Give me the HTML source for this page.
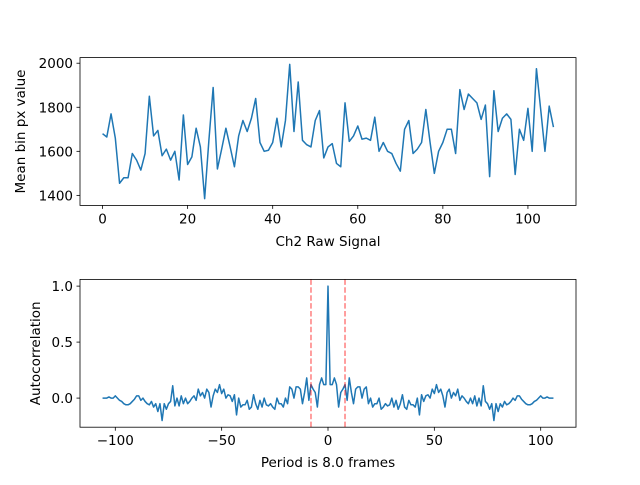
<!DOCTYPE html>
<html><head><meta charset="utf-8"><style>
body{margin:0;background:#fff}
svg text{font-family:"DejaVu Sans","Liberation Sans",sans-serif;font-size:13.5px;fill:#000}
</style></head><body>
<svg id="c" width="640" height="480" xmlns="http://www.w3.org/2000/svg"></svg>
<script>
const signalValues=[1680,1665,1770,1660,1455,1480,1480,1590,1560,1515,1590,1850,1670,1695,1580,1610,1560,1600,1470,1765,1540,1575,1705,1620,1385,1650,1890,1520,1610,1705,1620,1530,1670,1740,1690,1750,1840,1640,1600,1605,1640,1750,1620,1740,1995,1690,1915,1650,1630,1620,1740,1785,1570,1620,1635,1545,1530,1820,1645,1670,1715,1655,1660,1650,1755,1600,1640,1600,1590,1545,1510,1700,1740,1590,1610,1640,1790,1640,1500,1600,1640,1700,1700,1590,1880,1790,1860,1840,1820,1745,1810,1485,1875,1690,1750,1770,1745,1495,1700,1650,1795,1600,1975,1790,1600,1805,1710];
const acfPositiveLags=[1.0,0.12,0.12,0.18,0.12,-0.08,0.05,0.08,0.12,-0.02,0.18,0.05,-0.05,0.08,0.1,0.1,0.0,0.08,0.1,-0.05,0.0,-0.08,-0.05,-0.05,0.0,-0.1,-0.08,-0.05,-0.07,-0.06,0.0,-0.08,-0.02,-0.1,-0.05,0.03,-0.08,-0.1,-0.02,-0.06,-0.06,-0.08,0.0,-0.15,0.03,-0.03,0.02,0.03,0.0,0.08,0.04,0.12,0.05,0.08,0.02,-0.08,0.05,0.08,0.0,0.05,0.02,0.08,-0.02,0.02,0.0,-0.03,-0.05,0.0,-0.05,0.02,-0.07,0.0,-0.07,0.11,-0.03,-0.05,-0.1,-0.05,-0.2,-0.05,-0.12,-0.05,-0.08,-0.03,-0.06,-0.05,-0.03,0.0,-0.02,0.02,0.02,-0.01,-0.03,-0.05,-0.06,-0.06,-0.05,-0.03,-0.02,0.0,0.02,0.0,0.0,0.01,0.0,0.0,0.0];
const periodLag=8;
const topXTicks=[0,20,40,60,80,100];
const topYTicks=[1400,1600,1800,2000];
const botXTicks=[-100,-50,0,50,100];
const botYTicks=[0.0,0.5,1.0];

const svg=document.getElementById('c');
const NS='http://www.w3.org/2000/svg';
function mk(tag,attrs,parent){const e=document.createElementNS(NS,tag);for(const k in attrs)e.setAttribute(k,attrs[k]);(parent||svg).appendChild(e);return e;}
function lin(d0,d1,r0,r1){return v=>r0+(v-d0)*(r1-r0)/(d1-d0);}

const L=80,R=576;
const tT=57.6,tB=205.4;
const n=signalValues.length;
const tx0=-(n-1)*0.05,tx1=(n-1)*1.05;
const smin=Math.min(...signalValues),smax=Math.max(...signalValues),sp=(smax-smin)*0.05;
const tX=lin(tx0,tx1,L,R),tY=lin(smin-sp,smax+sp,tB,tT);
const g1=mk('g',{});


let d='';signalValues.forEach((v,i)=>{d+=(i?'L':'M')+tX(i).toFixed(2)+' '+tY(v).toFixed(2);});
const p1=mk('path',{d:d,fill:'none',stroke:'#1f77b4','stroke-width':1.5,'stroke-linejoin':'round'},g1);


const f1=mk('rect',{x:L,y:tT,width:R-L,height:tB-tT,fill:'none',stroke:'#000','stroke-width':0.8},g1);


topXTicks.forEach(t=>{const x=tX(t);mk('line',{x1:x,x2:x,y1:tB,y2:tB+3.5,stroke:'#000','stroke-width':0.8},g1);const tt=mk('text',{x:x,y:tB+18,'text-anchor':'middle'},g1);tt.textContent=t;

});
topYTicks.forEach(t=>{const y=tY(t);mk('line',{x1:L,x2:L-3.5,y1:y,y2:y,stroke:'#000','stroke-width':0.8},g1);const tt=mk('text',{x:L-7,y:y+5,'text-anchor':'end'},g1);tt.textContent=t;

});
const xl1=mk('text',{x:(L+R)/2,y:246,'text-anchor':'middle'},g1);xl1.textContent='Ch2 Raw Signal';


const yl1=mk('text',{x:0,y:0,'text-anchor':'middle',transform:'translate(25,'+((tT+tB)/2)+') rotate(-90)'},g1);yl1.textContent='Mean bin px value';



const bT=279.4,bB=427.2;
const m=acfPositiveLags.length-1;
const lags=[],acf=[];
for(let k=-m;k<=m;k++){lags.push(k);acf.push(acfPositiveLags[Math.abs(k)]);}
const amin=Math.min(...acf),amax=Math.max(...acf),ap=(amax-amin)*0.05;
const bX=lin(-m*1.1,m*1.1,L,R),bY=lin(amin-ap,amax+ap,bB,bT);
const g2=mk('g',{});


d='';lags.forEach((k,i)=>{d+=(i?'L':'M')+bX(k).toFixed(2)+' '+bY(acf[i]).toFixed(2);});
const p2=mk('path',{d:d,fill:'none',stroke:'#1f77b4','stroke-width':1.5,'stroke-linejoin':'round'},g2);


[-periodLag,periodLag].forEach(k=>{const x=bX(k);const ln=mk('line',{x1:x,x2:x,y1:bT,y2:bB,stroke:'#ff0000','stroke-opacity':0.5,'stroke-width':1.5,'stroke-dasharray':'5.5,2.4'},g2);

});
const f2=mk('rect',{x:L,y:bT,width:R-L,height:bB-bT,fill:'none',stroke:'#000','stroke-width':0.8},g2);


botXTicks.forEach(t=>{const x=bX(t);mk('line',{x1:x,x2:x,y1:bB,y2:bB+3.5,stroke:'#000','stroke-width':0.8},g2);const tt=mk('text',{x:x,y:bB+18,'text-anchor':'middle'},g2);tt.textContent=(t<0?'\u2212'+(-t):t);

});
botYTicks.forEach(t=>{const y=bY(t);mk('line',{x1:L,x2:L-3.5,y1:y,y2:y,stroke:'#000','stroke-width':0.8},g2);const tt=mk('text',{x:L-7,y:y+5,'text-anchor':'end'},g2);tt.textContent=t.toFixed(1);

});
const xl2=mk('text',{x:(L+R)/2,y:467,'text-anchor':'middle'},g2);xl2.textContent='Period is 8.0 frames';


const yl2=mk('text',{x:0,y:0,'text-anchor':'middle',transform:'translate(40,'+((bT+bB)/2)+') rotate(-90)'},g2);yl2.textContent='Autocorrelation';


</script>
</body></html>
